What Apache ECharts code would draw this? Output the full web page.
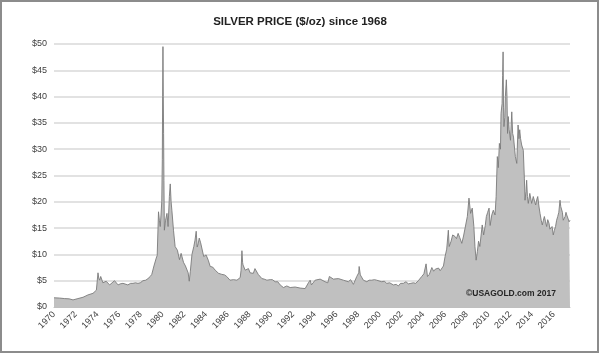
<!DOCTYPE html>
<html>
<head>
<meta charset="utf-8">
<script src="https://cdn.jsdelivr.net/npm/echarts@6/dist/echarts.min.js"></script>
<style>
  html, body { margin: 0; padding: 0; background: #fff; }
  #chart { width: 600px; height: 354px; }
</style>
</head>
<body>
<div id="chart"></div>
<script>
// silver price readings ($/oz), date as decimal year
const dates1970s = [1970.0, 1970.5, 1970.98, 1971.4, 1971.75, 1972.2, 1972.67, 1973.13, 1973.59, 1973.9,
  1974.05, 1974.12, 1974.2, 1974.3, 1974.5, 1974.8, 1975.12, 1975.35, 1975.57, 1975.9, 1976.1, 1976.35,
  1976.5, 1976.8, 1977.05, 1977.27, 1977.5, 1977.73, 1977.94, 1978.19, 1978.45, 1978.65, 1978.86, 1979.0,
  1979.1, 1979.2, 1979.41, 1979.5, 1979.62, 1979.7, 1979.78, 1979.85, 1979.92];
const prices1970s = [1.75, 1.7, 1.6, 1.55, 1.35, 1.6, 1.85, 2.3, 2.6, 3.2,
  6.5, 5.5, 5.1, 5.8, 4.6, 4.9, 4.2, 4.6, 5.0, 4.2, 4.4, 4.5,
  4.8, 4.2, 4.5, 4.5, 4.6, 4.5, 4.6, 5.0, 5.1, 5.4, 5.8, 6.2,
  6.4, 7.8, 9.3, 9.8, 18.1, 16.5, 15.3, 17.5, 20.0];

const dates1980s = [1979.97, 1980.0, 1980.03, 1980.06, 1980.09, 1980.12, 1980.16, 1980.27, 1980.4, 1980.5,
  1980.62, 1980.7, 1980.78, 1980.85, 1981.0, 1981.15, 1981.36, 1981.55, 1981.7, 1981.92, 1982.1, 1982.24,
  1982.35, 1982.45, 1982.55, 1982.7, 1982.87, 1982.98, 1983.09, 1983.18, 1983.27, 1983.37, 1983.5, 1983.64,
  1983.78, 1984.0, 1984.2, 1984.38, 1984.6, 1984.84, 1985.15, 1985.45, 1985.7, 1985.9, 1986.2, 1986.52,
  1986.84, 1987.14, 1987.22, 1987.3, 1987.36, 1987.4, 1987.5, 1987.6, 1987.9, 1988.05, 1988.2, 1988.35,
  1988.5, 1988.8, 1989.14, 1989.35, 1989.6, 1989.9];
const prices1980s = [28.0, 40.0, 49.5, 40.0, 33.0, 24.0, 14.6, 16.5, 17.8, 15.3,
  21.0, 23.4, 20.0, 18.4, 14.6, 11.5, 10.8, 9.0, 10.2, 8.5, 7.8, 7.6,
  6.5, 4.9, 6.8, 10.0, 11.5, 12.7, 14.4, 11.4, 12.0, 13.1, 12.2, 12.2,
  9.6, 9.9, 8.9, 7.7, 7.6, 7.0, 6.4, 6.2, 6.1, 5.8, 5.1, 5.2,
  5.1, 5.6, 7.0, 10.7, 8.5, 8.0, 8.3, 7.0, 7.3, 6.5, 6.7, 6.4,
  7.3, 6.2, 5.4, 5.3, 5.1, 5.2];

const dates1990s = [1990.1, 1990.36, 1990.6, 1990.82, 1991.12, 1991.43, 1991.6, 1991.74, 1992.2, 1992.66,
  1993.12, 1993.27, 1993.42, 1993.58, 1993.7, 1994.04, 1994.5, 1994.96, 1995.2, 1995.35, 1995.72, 1996.18,
  1996.64, 1997.1, 1997.3, 1997.56, 1997.87, 1998.05, 1998.09, 1998.2, 1998.3, 1998.48, 1998.8, 1999.0,
  1999.25, 1999.5, 1999.7, 1999.85];
const prices1990s = [5.2, 4.8, 4.8, 4.2, 3.7, 4.0, 4.3, 3.7, 3.8, 3.6,
  3.5, 3.7, 4.6, 5.1, 4.2, 5.1, 5.3, 4.8, 4.6, 5.8, 5.3, 5.4,
  5.1, 4.8, 5.2, 4.3, 5.8, 6.5, 7.7, 6.1, 6.4, 5.1, 4.8, 5.1,
  5.1, 5.2, 5.1, 5.3];

const dates2000s = [2000.17, 2000.4, 2000.63, 2000.9, 2001.24, 2001.5, 2001.7, 2001.9, 2002.16, 2002.4,
  2002.62, 2002.85, 2003.08, 2003.3, 2003.54, 2003.85, 2004.05, 2004.25, 2004.38, 2004.55, 2004.78, 2004.95,
  2005.1, 2005.4, 2005.55, 2005.7, 2005.85, 2006.0, 2006.15, 2006.3, 2006.38, 2006.46, 2006.55, 2006.7,
  2006.92, 2007.05, 2007.2, 2007.35, 2007.54, 2007.7, 2007.84, 2008.05, 2008.2, 2008.35, 2008.5, 2008.65,
  2008.75, 2008.86, 2008.97, 2009.08, 2009.2, 2009.42, 2009.55, 2009.7, 2009.8, 2009.92];
const prices2000s = [4.8, 4.9, 4.5, 4.6, 4.2, 4.3, 4.0, 4.5, 4.5, 4.8,
  4.4, 4.5, 4.6, 4.5, 5.0, 5.8, 6.3, 8.2, 5.8, 6.2, 7.5, 6.8,
  7.2, 7.4, 6.9, 7.2, 7.8, 9.6, 11.0, 14.6, 11.5, 11.2, 12.5, 13.7,
  13.4, 13.0, 14.0, 13.2, 12.1, 13.5, 13.7, 17.2, 20.7, 17.8, 18.8, 15.3,
  11.5, 8.9, 10.5, 12.5, 11.5, 15.6, 13.7, 15.5, 17.2, 18.0];

const dates2010s = [2010.05, 2010.15, 2010.3, 2010.44, 2010.6, 2010.7, 2010.81, 2010.9, 2011.0, 2011.1,
  2011.15, 2011.25, 2011.3, 2011.34, 2011.38, 2011.42, 2011.5, 2011.55, 2011.64, 2011.7, 2011.75, 2011.82,
  2011.9, 2012.02, 2012.14, 2012.22, 2012.3, 2012.47, 2012.6, 2012.72, 2012.8, 2012.87, 2012.95, 2013.05,
  2013.2, 2013.3, 2013.36, 2013.45, 2013.51, 2013.58, 2013.66, 2013.8, 2013.97, 2014.12, 2014.25, 2014.34,
  2014.45, 2014.53, 2014.65, 2014.74, 2014.85, 2014.95, 2015.05, 2015.14, 2015.25, 2015.35, 2015.45, 2015.57,
  2015.65, 2015.75, 2015.85, 2015.96, 2016.05, 2016.17, 2016.27, 2016.37, 2016.47, 2016.58, 2016.65, 2016.73,
  2016.8, 2016.88, 2016.98, 2017.05, 2017.13, 2017.2, 2017.28, 2017.35, 2017.42, 2017.5];
const prices2010s = [18.8, 15.5, 17.5, 18.4, 17.5, 21.0, 28.6, 26.5, 31.1, 30.0,
  36.8, 38.7, 44.0, 48.5, 38.0, 34.3, 36.0, 40.0, 43.2, 40.0, 33.0, 36.2,
  33.7, 31.7, 37.1, 33.0, 32.3, 28.6, 27.3, 34.6, 32.0, 33.7, 32.0, 30.8,
  29.8, 24.5, 20.3, 22.0, 24.1, 21.0, 19.7, 21.6, 19.7, 21.0, 20.0, 19.4,
  20.5, 21.0, 19.0, 17.8, 16.5, 15.6, 16.5, 17.2, 16.2, 15.3, 16.6, 15.9,
  14.8, 14.6, 15.3, 13.7, 14.5, 15.3, 16.5, 17.2, 18.0, 20.3, 19.1, 19.1,
  18.0, 16.5, 16.8, 17.2, 18.0, 17.5, 17.8, 17.2, 16.2, 16.5];

const titleText = 'SILVER PRICE ($/oz) since 1968';
const creditText = '\u00A9USAGOLD.com 2017';

const chartInit = () => {
  const $chartEl = document.getElementById('chart');
  const chart = echarts.init($chartEl, null, { renderer: 'canvas' });

  const dates = [].concat(dates1970s, dates1980s, dates1990s, dates2000s, dates2010s);
  const prices = [].concat(prices1970s, prices1980s, prices1990s, prices2000s, prices2010s);
  const points = dates.map((d, i) => [d, prices[i]]);

  const font = '"Liberation Sans", Arial, sans-serif';

  chart.setOption({
    animation: false,
    backgroundColor: '#fff',
    title: {
      text: titleText,
      left: 'center',
      top: 11,
      textStyle: { fontFamily: font, fontSize: 11.5, fontWeight: 'bold', color: '#222' }
    },
    grid: { left: 54, right: 30, top: 44, bottom: 47 },
    xAxis: {
      type: 'value',
      min: 1970,
      max: 2017.5,
      interval: 2,
      axisLine: { show: true, lineStyle: { color: '#bfbfbf', width: 1 } },
      axisTick: { show: false },
      splitLine: { show: false },
      axisLabel: {
        rotate: 45,
        fontFamily: font,
        fontSize: 9,
        color: '#404040',
        margin: 6,
        showMaxLabel: false,
        formatter: v => String(v)
      }
    },
    yAxis: {
      type: 'value',
      min: 0,
      max: 50,
      interval: 5,
      axisLine: { show: false },
      axisTick: { show: false },
      splitLine: { lineStyle: { color: '#d9d9d9', width: 1.5 } },
      axisLabel: {
        fontFamily: font,
        fontSize: 9,
        color: '#404040',
        margin: 7,
        formatter: v => '$' + v
      }
    },
    series: [
      {
        type: 'line',
        data: points,
        showSymbol: false,
        lineStyle: { color: '#7a7a7a', width: 0.9 },
        areaStyle: { color: '#c0c0c0', opacity: 1 },
        z: 3
      }
    ],
    graphic: [
      {
        type: 'rect',
        shape: { x: 1, y: 1, width: 597, height: 351 },
        style: { fill: 'none', stroke: '#8c8c8c', lineWidth: 2 },
        silent: true
      },
      {
        type: 'text',
        left: 466,
        top: 289,
        z: 10,
        style: { text: creditText, font: 'bold 8.5px ' + font, fill: '#262626' }
      }
    ]
  });
};

chartInit();
</script>
</body>
</html>
